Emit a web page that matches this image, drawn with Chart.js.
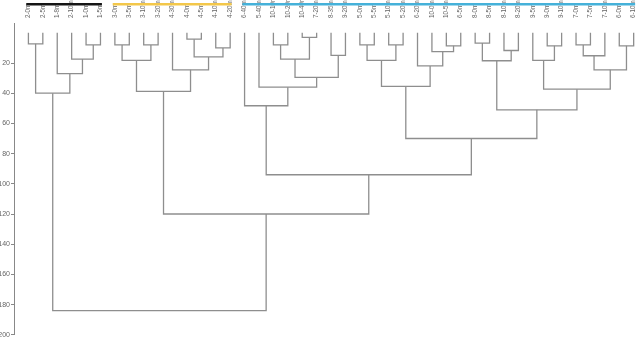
<!DOCTYPE html>
<html>
<head>
<meta charset="utf-8">
<script src="https://cdn.jsdelivr.net/npm/chart.js@4.4.1/dist/chart.umd.min.js"></script>
<style>
  html, body { margin: 0; padding: 0; background: #fff; overflow: hidden; }
  #wrap { width: 638px; height: 340px; }
</style>
</head>
<body>
<div id="wrap"><canvas id="chart" width="638" height="340"></canvas></div>
<script>
// leaves, left to right
const leafLabels = [
    "2-0m", "2-5m", "1-8m", "2-10m", "1-0m", "1-5m",
    "3-0m", "3-5m", "3-10m", "3-20m", "4-30m", "4-0m", "4-5m", "4-10m", "4-20m",
    "6-40m", "5-40m", "10-10m", "10-20m", "10-40m", "7-20m", "8-35m", "9-20m",
    "5-0m", "5-5m", "5-10m", "5-20m", "6-20m", "10-0m", "10-5m", "6-5m",
    "8-0m", "8-5m", "8-10m", "8-20m", "9-5m", "9-0m", "9-10m",
    "7-0m", "7-5m", "7-10m", "6-0m", "6-10m"
];

// linkage: [left node, right node, height]; node 43 + k is the k-th merge
const merges = [
    [0, 1, 7.3], [4, 5, 8], [3, 44, 17.4], [2, 45, 27], [43, 46, 40],
    [6, 7, 8], [8, 9, 8], [48, 49, 18.3], [11, 12, 4.2], [13, 14, 10],
    [51, 52, 16], [10, 53, 24.5], [50, 54, 38.8],
    [17, 18, 8], [19, 20, 3], [56, 57, 17.4], [21, 22, 15], [58, 59, 29.5],
    [16, 60, 36], [15, 61, 48.3],
    [23, 24, 8], [25, 26, 8], [63, 64, 18.3], [29, 30, 8.6], [28, 66, 12.4],
    [27, 67, 21.9], [65, 68, 35.5],
    [31, 32, 6.8], [33, 34, 11.7], [70, 71, 18.5], [36, 37, 8.6], [35, 73, 18.3],
    [38, 39, 8], [75, 40, 15.2], [41, 42, 8.6], [76, 77, 24.5], [74, 78, 37.3],
    [72, 79, 51],
    [69, 80, 70], [62, 81, 94], [55, 82, 120], [47, 83, 184]
];

const yTicks = [20, 40, 60, 80, 100, 120, 140, 160, 180, 200];

// cluster bars over the labels
const groupStart = [0, 6, 15];
const groupEnd = [5, 14, 42];
const groupColors = ["#151515", "#f3c74a", "#45b1d9"];

const nodeX = leafLabels.map((_, i) => i);
const nodeH = leafLabels.map(() => 0);

const datasets = merges.map(([a, b, h]) => {
    const pts = [
        {x: nodeX[a], y: nodeH[a]},
        {x: nodeX[a], y: h},
        {x: nodeX[b], y: h},
        {x: nodeX[b], y: nodeH[b]}
    ];
    nodeX.push((nodeX[a] + nodeX[b]) / 2);
    nodeH.push(h);
    return {
        data: pts,
        showLine: true,
        borderColor: "#8e8e8e",
        borderWidth: 1.3,
        pointRadius: 0,
        tension: 0
    };
});

const groupBars = {
    id: "groupBars",
    afterDraw(chart) {
        const ctx = chart.ctx;
        const xs = chart.scales.x;
        groupStart.forEach((s, i) => {
            const x0 = xs.getPixelForValue(s - 0.15);
            const x1 = xs.getPixelForValue(groupEnd[i] + 0.1);
            ctx.fillStyle = groupColors[i];
            ctx.fillRect(x0, 3, x1 - x0, 2.5);
        });
    }
};

new Chart(document.getElementById("chart"), {
    type: "scatter",
    data: { datasets: datasets },
    plugins: [groupBars],
    options: {
        responsive: false,
        animation: false,
        devicePixelRatio: 1,
        layout: { padding: 0 },
        plugins: {
            legend: { display: false },
            tooltip: { enabled: false }
        },
        scales: {
            x: {
                type: "linear",
                position: "top",
                min: -1,
                max: 42.3,
                afterBuildTicks: (s) => { s.ticks = leafLabels.map((_, i) => ({value: i})); },
                afterFit: (s) => { s.height = 23; },
                grid: { display: false, drawTicks: false },
                border: { display: false },
                ticks: {
                    autoSkip: false,
                    minRotation: 90,
                    maxRotation: 90,
                    mirror: true,
                    padding: -5,
                    labelOffset: 0,
                    color: "#666",
                    font: {family: "Liberation Sans", size: 6.3},
                    callback: (v) => leafLabels[v]
                }
            },
            y: {
                type: "linear",
                reverse: true,
                min: -6.5,
                max: 200,
                afterBuildTicks: (s) => { s.ticks = yTicks.map(v => ({value: v})); },
                afterFit: (s) => { s.width = 14; },
                grid: { drawOnChartArea: false, tickLength: 3, color: "#888" },
                border: { color: "#888" },
                ticks: { padding: 1, color: "#666", font: {family: "Liberation Sans", size: 7} }
            }
        }
    }
});
</script>
</body>
</html>
